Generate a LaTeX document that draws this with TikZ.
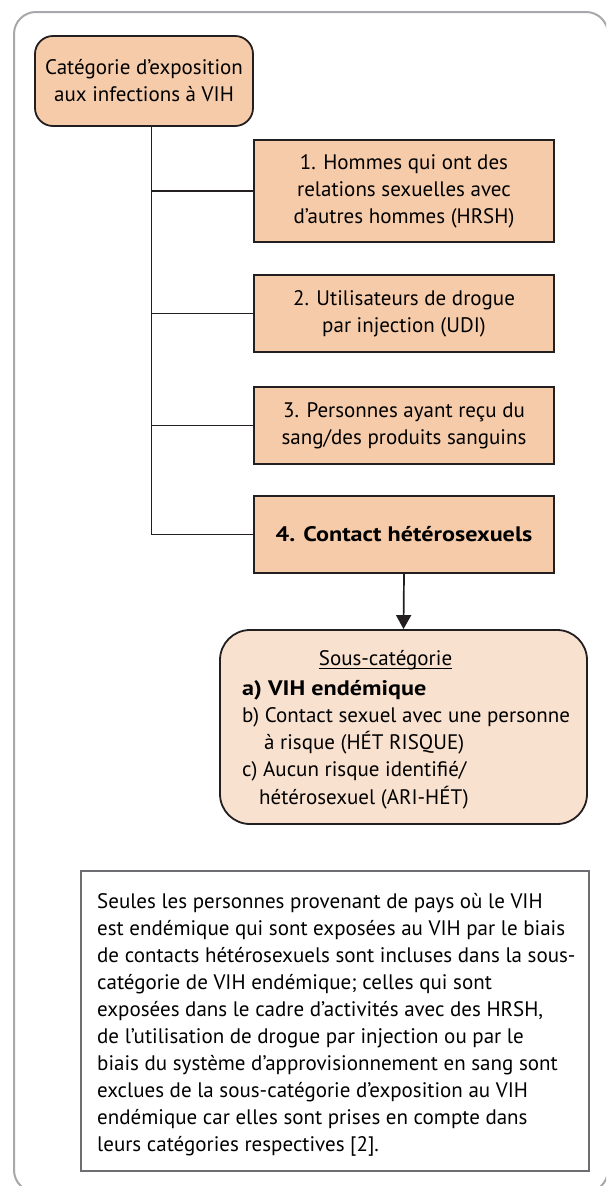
\documentclass[tikz,border=0pt]{standalone}
\usepackage{fontspec}
\setmainfont{PT Sans}[BoldFeatures={FakeStretch=1.15}]
\usetikzlibrary{arrows.meta}
\definecolor{peach}{HTML}{F6CBA9}
\definecolor{lightpeach}{HTML}{F9E1D0}
\definecolor{boxline}{HTML}{231F20}
\definecolor{framec}{HTML}{A6A8AB}
\definecolor{notec}{HTML}{6D6E71}
\newcommand{\fs}{\fontsize{21}{27}\selectfont}
\tikzset{
  catbox/.style={draw=boxline, fill=peach, line width=1.8pt, align=center, font=\fs, inner sep=0pt},
  txt/.style={font=\fs, inner sep=0pt, anchor=base west},
  conn/.style={draw=boxline, line width=1.7pt},
}
\begin{document}
\begin{tikzpicture}[x=1pt,y=-1pt]
\useasboundingbox (0,0) rectangle (606,1186);
\begin{scope}
\clip (0,0) rectangle (606,1186);
\draw[framec, line width=2pt, rounded corners=22pt] (14,12) rectangle (608,1192);
\end{scope}
% top box
\node[catbox, rounded corners=18pt, minimum width=218pt, minimum height=90pt] (top) at (144,81)
  {Catégorie d’exposition\\aux infections à VIH};
% category boxes
\node[catbox, minimum width=300pt, minimum height=102pt] (b1) at (404,191)
  {1. Hommes qui ont des\\relations sexuelles avec\\d’autres hommes (HRSH)};
\node[catbox, minimum width=300pt, minimum height=77pt] (b2) at (404,313.5)
  {2. Utilisateurs de drogue\\par injection (UDI)};
\node[catbox, minimum width=300pt, minimum height=77pt] (b3) at (404,425.5)
  {3. Personnes ayant reçu du\\sang/des produits sanguins};
\node[catbox, minimum width=300pt, minimum height=77pt, font=\fs\bfseries] (b4) at (404,534.5)
  {4. Contact hétérosexuels};
% connectors
\draw[conn] ([xshift=7.5pt]top.south) |- (b4.west);
\draw[conn] ([xshift=7.5pt]top.south) |- (b1.west);
\draw[conn] ([xshift=7.5pt]top.south) |- (b2.west);
\draw[conn] ([xshift=7.5pt]top.south) |- (b3.west);
% sub-category box
\node[draw=boxline, fill=lightpeach, line width=1.8pt, rounded corners=30pt,
      minimum width=367pt, minimum height=194pt, inner sep=0pt] (sub) at (403.5,727) {};
\draw[conn, -{Triangle[width=15pt,length=14pt]}] (b4.south) -- (sub.north);
\node[font=\fs, inner sep=0pt, anchor=base] (t0) at (385.5,665) {Sous-catégorie};
\draw[line width=1pt] ([yshift=-3pt]t0.base west) -- ([yshift=-3pt]t0.base east);
\node[txt, font=\fs\bfseries] (ta) at (242,695) {a) VIH endémique};
\node[txt] (tb) at (242,722) {b) Contact sexuel avec une personne};
\node[txt] (tb2) at (264,749) {à risque (HÉT RISQUE)};
\node[txt] (tc) at (242,776.7) {c) Aucun risque identifié/};
\node[txt] (tc2) at (259,804) {hétérosexuel (ARI-HÉT)};
% note box
\node[draw=notec, line width=1.2pt, minimum width=508pt, minimum height=300pt, inner sep=0pt] (note) at (335,1021) {};
\node[font=\fs, inner sep=0pt, anchor=north west, align=left] (notetext) at (97,893)
 {Seules les personnes provenant de pays où le VIH\\
  est endémique qui sont exposées au VIH par le biais\\
  de contacts hétérosexuels sont incluses dans la sous-\\
  catégorie de VIH endémique; celles qui sont\\
  exposées dans le cadre d’activités avec des HRSH,\\
  de l’utilisation de drogue par injection ou par le\\
  biais du système d’approvisionnement en sang sont\\
  exclues de la sous-catégorie d’exposition au VIH\\
  endémique car elles sont prises en compte dans\\
  leurs catégories respectives [2].};
\end{tikzpicture}
\end{document}
